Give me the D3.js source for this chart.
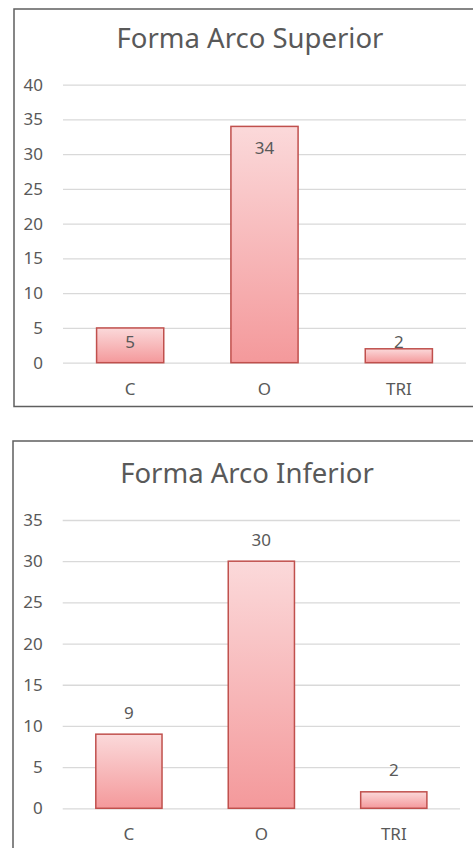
<!DOCTYPE html>
<html>
<head>
<meta charset="utf-8">
<script src="https://cdn.jsdelivr.net/npm/d3@7"></script>
<style>
  body { margin: 0; background: #fff; }
  svg text { font-family: "Noto Sans", "Open Sans", sans-serif; fill: #595959; }
</style>
</head>
<body>
<div id="wrapper"></div>
<script>
// data
const categories = ["C", "O", "TRI"];
const superiorValues = [5, 34, 2];
const inferiorValues = [9, 30, 2];
const superiorTicks = [0, 5, 10, 15, 20, 25, 30, 35, 40];
const inferiorTicks = [0, 5, 10, 15, 20, 25, 30, 35];

const svg = d3.select("#wrapper").append("svg")
    .attr("width", 473)
    .attr("height", 848);

// gradient used by each bar, light on top, darker at the bottom
const defs = svg.append("defs");
const grad = defs.append("linearGradient")
    .attr("id", "barFill")
    .attr("x1", 0).attr("y1", 0).attr("x2", 0).attr("y2", 1);
grad.append("stop").attr("offset", "0%").attr("stop-color", "#fbd9da");
grad.append("stop").attr("offset", "100%").attr("stop-color", "#f4999b");

function drawChart(opt) {
    const g = svg.append("g");

    // frame (right side runs off the page like the screenshot)
    g.append("rect")
        .attr("x", opt.frame.x)
        .attr("y", opt.frame.y)
        .attr("width", opt.frame.w)
        .attr("height", opt.frame.h)
        .attr("fill", "none")
        .attr("stroke", "#5f5f5f")
        .attr("stroke-width", 1.5);

    g.append("text")
        .attr("x", opt.titleX)
        .attr("y", opt.titleY)
        .attr("text-anchor", "middle")
        .style("font-size", "27.5px")
        .text(opt.title);

    const x = d3.scaleBand()
        .domain(categories)
        .range([opt.left, opt.right])
        .paddingInner(0.5)
        .paddingOuter(0.25);

    const y = d3.scaleLinear()
        .domain([0, d3.max(opt.ticks)])
        .range([opt.bottom, opt.top]);

    // gridlines + y labels
    const yAxis = d3.axisLeft(y)
        .tickValues(opt.ticks)
        .tickSize(-(opt.right - opt.left))
        .tickPadding(20);
    const yg = g.append("g")
        .attr("transform", `translate(${opt.left},0)`)
        .call(yAxis);
    yg.select(".domain").remove();
    yg.selectAll(".tick line").attr("stroke", "#d9d9d9").attr("stroke-width", 1.3);
    yg.selectAll(".tick text").style("font-size", "17px").attr("fill", "#595959");

    // x labels
    const xAxis = d3.axisBottom(x).tickSize(0).tickPadding(20);
    const xg = g.append("g")
        .attr("transform", `translate(0,${opt.bottom})`)
        .call(xAxis);
    xg.select(".domain").remove();
    xg.selectAll(".tick text").style("font-size", "17px").attr("fill", "#595959");

    const rows = categories.map((c, i) => ({ cat: c, val: opt.values[i] }));

    g.selectAll("rect.bar")
        .data(rows)
        .join("rect")
        .attr("class", "bar")
        .attr("x", d => x(d.cat))
        .attr("y", d => y(d.val))
        .attr("width", x.bandwidth())
        .attr("height", d => y(0) - y(d.val))
        .attr("fill", "url(#barFill)")
        .attr("stroke", "#c0504d")
        .attr("stroke-width", 1.5);

    g.selectAll("text.lbl")
        .data(rows)
        .join("text")
        .attr("class", "lbl")
        .attr("x", d => x(d.cat) + x.bandwidth() / 2)
        .attr("y", d => opt.inside
            ? Math.min(y(d.val) + 22, y(0) - 21)
            : y(d.val) - 21.5)
        .attr("dy", "0.35em")
        .attr("text-anchor", "middle")
        .style("font-size", "17px")
        .text(d => d.val);
}

drawChart({
    title: "Forma Arco Superior",
    values: superiorValues,
    ticks: superiorTicks,
    frame: { x: 14, y: 9, w: 480, h: 397.5 },
    titleX: 250, titleY: 48,
    left: 63, right: 466, top: 84.7, bottom: 362.7,
    inside: true
});

drawChart({
    title: "Forma Arco Inferior",
    values: inferiorValues,
    ticks: inferiorTicks,
    frame: { x: 13, y: 441, w: 480, h: 430 },
    titleX: 247, titleY: 483,
    left: 62.7, right: 460, top: 520, bottom: 808.3,
    inside: false
});
</script>
</body>
</html>
